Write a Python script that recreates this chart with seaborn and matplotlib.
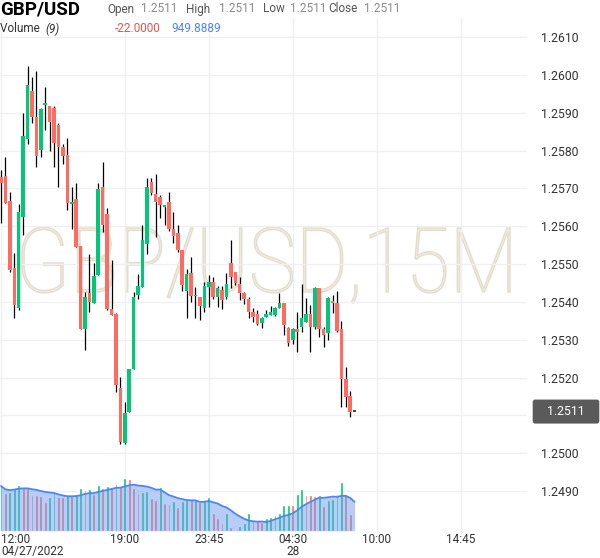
import matplotlib
matplotlib.use("Agg")
import matplotlib.pyplot as plt
import matplotlib.transforms as mtransforms
from matplotlib.textpath import TextPath
from matplotlib.patches import PathPatch
from matplotlib.font_manager import FontProperties
import seaborn as sns
import pandas as pd
import numpy as np

# GBP/USD 15 minute candles, 04/27/2022 12:00 onwards
opens = [1.25730, 1.25733, 1.25667, 1.25489, 1.25384, 1.25624, 1.25830, 1.25957, 1.25889, 1.25801,
         1.25921, 1.25918, 1.25912, 1.25867, 1.25809, 1.25788, 1.25659, 1.25672, 1.25548, 1.25328,
         1.25423, 1.25397, 1.25471, 1.25704, 1.25632, 1.25381, 1.25368, 1.25172, 1.25027, 1.25109,
         1.25223, 1.25418, 1.25439, 1.25553, 1.25717, 1.25685, 1.25677, 1.25651, 1.25664, 1.25593,
         1.25582, 1.25537, 1.25429, 1.25476, 1.25415, 1.25413, 1.25384, 1.25439, 1.25452, 1.25413,
         1.25431, 1.25413, 1.25503, 1.25479, 1.25447, 1.25423, 1.25408, 1.25373, 1.25368, 1.25344,
         1.25360, 1.25365, 1.25365, 1.25384, 1.25397, 1.25331, 1.25299, 1.25328, 1.25334, 1.25347,
         1.25368, 1.25334, 1.25437, 1.25328, 1.25318, 1.25402, 1.25397, 1.25328, 1.25196, 1.25151,
         1.25110]
highs = [1.25748, 1.25783, 1.25690, 1.25529, 1.25659, 1.25899, 1.26023, 1.25994, 1.26010, 1.25912,
         1.25968, 1.25918, 1.25918, 1.25873, 1.25817, 1.25833, 1.25704, 1.25714, 1.25548, 1.25426,
         1.25527, 1.25503, 1.25714, 1.25770, 1.25648, 1.25511, 1.25371, 1.25201, 1.25135, 1.25223,
         1.25426, 1.25474, 1.25603, 1.25727, 1.25727, 1.25738, 1.25682, 1.25653, 1.25690, 1.25638,
         1.25603, 1.25537, 1.25487, 1.25519, 1.25439, 1.25413, 1.25452, 1.25471, 1.25466, 1.25442,
         1.25442, 1.25476, 1.25564, 1.25479, 1.25466, 1.25426, 1.25413, 1.25384, 1.25378, 1.25360,
         1.25378, 1.25389, 1.25386, 1.25423, 1.25397, 1.25334, 1.25331, 1.25373, 1.25447, 1.25410,
         1.25392, 1.25439, 1.25437, 1.25334, 1.25413, 1.25418, 1.25429, 1.25349, 1.25228, 1.25164,
         1.25110]
lows = [1.25608, 1.25661, 1.25479, 1.25357, 1.25378, 1.25577, 1.25817, 1.25873, 1.25756, 1.25783,
        1.25854, 1.25799, 1.25756, 1.25704, 1.25764, 1.25643, 1.25593, 1.25545, 1.25328, 1.25273,
        1.25373, 1.25397, 1.25471, 1.25585, 1.25378, 1.25365, 1.25162, 1.25024, 1.25024, 1.25109,
        1.25223, 1.25408, 1.25439, 1.25527, 1.25682, 1.25571, 1.25622, 1.25603, 1.25587, 1.25556,
        1.25532, 1.25429, 1.25357, 1.25400, 1.25357, 1.25352, 1.25373, 1.25386, 1.25408, 1.25386,
        1.25381, 1.25408, 1.25437, 1.25445, 1.25405, 1.25394, 1.25357, 1.25347, 1.25339, 1.25331,
        1.25360, 1.25365, 1.25362, 1.25384, 1.25312, 1.25283, 1.25289, 1.25267, 1.25320, 1.25347,
        1.25267, 1.25328, 1.25307, 1.25281, 1.25299, 1.25371, 1.25320, 1.25122, 1.25122, 1.25096,
        1.25110]
closes = [1.25714, 1.25661, 1.25484, 1.25392, 1.25638, 1.25838, 1.25973, 1.25889, 1.25785, 1.25910,
          1.25923, 1.25875, 1.25820, 1.25809, 1.25785, 1.25661, 1.25664, 1.25545, 1.25328, 1.25413,
          1.25400, 1.25468, 1.25698, 1.25603, 1.25381, 1.25365, 1.25180, 1.25030, 1.25106, 1.25223,
          1.25413, 1.25442, 1.25564, 1.25704, 1.25688, 1.25664, 1.25656, 1.25653, 1.25593, 1.25574,
          1.25537, 1.25445, 1.25474, 1.25415, 1.25418, 1.25389, 1.25442, 1.25452, 1.25413, 1.25437,
          1.25405, 1.25447, 1.25466, 1.25450, 1.25423, 1.25408, 1.25373, 1.25360, 1.25341, 1.25357,
          1.25368, 1.25373, 1.25384, 1.25397, 1.25339, 1.25291, 1.25328, 1.25320, 1.25357, 1.25368,
          1.25334, 1.25437, 1.25328, 1.25312, 1.25410, 1.25397, 1.25323, 1.25196, 1.25149, 1.25110,
          1.25110]
volumes = [1475, 1254, 1287, 1409, 1508, 1442, 1409, 1178, 1165, 1155,
           957, 1122, 1244, 1122, 1115, 1178, 1171, 1211, 1409, 1343,
           1376, 1211, 1508, 1409, 1475, 1452, 1541, 1442, 1739, 1706,
           1409, 1244, 1287, 1294, 1079, 1013, 1442, 924, 881, 980,
           782, 980, 1013, 1006, 1013, 957, 980, 1112, 594, 419,
           264, 584, 132, 23, 155, 264, 594, 353, 330, 297,
           419, 462, 518, 584, 848, 855, 845, 1211, 1376, 1178,
           1162, 1148, 1172, 815, 1013, 1046, 1178, 1607, 1211, 551,
           -22]

tick_pos = [0, 28, 47, 66, 85, 104]
tick_labels = ["12:00\n04/27/2022", "19:00", "23:45", "04:30\n28", "10:00", "14:45"]
price_ticks = [1.2490, 1.2500, 1.2510, 1.2520, 1.2530, 1.2540, 1.2550, 1.2560,
               1.2570, 1.2580, 1.2590, 1.2600, 1.2610]
last_price = 1.2511
ma_len = 9

GREEN = "#00c878"
RED = "#ff6b60"

sns.set_theme(style="white")
plt.rcParams["font.family"] = ["Roboto", "DejaVu Sans"]

W, H = 600, 558
fig = plt.figure(figsize=(W / 100, H / 100), dpi=100)
fig.patch.set_facecolor("white")

# main price panel
ax = fig.add_axes([0, (H - 532) / H, 527 / W, 514 / H])
ax.set_facecolor("white")
idx = np.arange(len(opens))
o = np.array(opens)
c = np.array(closes)
h = np.array(highs)
l = np.array(lows)

ax.set_xlim(-0.23, 119)
ax.set_ylim(1.247917, 1.261502)

# watermark
fp = FontProperties(family="Roboto", weight="light")
wm = TextPath((0, 0), "GBP/USD,15M", size=1, prop=fp)
ext = wm.get_extents()
cap = TextPath((0, 0), "M", size=1, prop=fp).get_extents().height
sx = 488 / ext.width
sy = 64 / cap
wm_tr = (mtransforms.Affine2D().translate(-ext.x0, 0).scale(sx, sy).translate(22, H - 292)
         + mtransforms.Affine2D().scale(1 / W, 1 / H) + fig.transFigure)
ax.add_patch(PathPatch(wm, transform=wm_tr, fc="#f3f0e8", ec="#e4dece", lw=1.1, zorder=0.5))

# candles
body_col = np.where(c > o, GREEN, np.where(c < o, RED, "#444444"))
ax.vlines(idx, l, h, color="black", lw=0.9, zorder=2)
bottoms = np.minimum(o, c)
heights = np.maximum(np.abs(c - o), 0.00004)
ax.bar(idx, heights, bottom=bottoms, width=0.8, color=body_col, lw=0, zorder=3)

ax.set_yticks(price_ticks)
# the 1.2510 label sits under the last-price tag
ax.set_yticklabels(["" if abs(p - last_price) < 0.00015 else f"{p:.4f}" for p in price_ticks])
ax.yaxis.tick_right()
ax.tick_params(axis="y", length=0, pad=10, labelsize=8.8, labelcolor="#333333")
ax.set_xticks(tick_pos)
ax.tick_params(axis="x", length=0, labelbottom=False)
ax.grid(True, color="#f0f0f0", lw=1)
ax.set_axisbelow(True)
sns.despine(ax=ax, left=True, bottom=True, right=True, top=True)

# current price tag
tag_tr = mtransforms.blended_transform_factory(ax.transAxes, ax.transData)
ax.text(1 + 39 / 527, last_price, "   1.2511   ", transform=tag_tr, ha="center", va="center",
        fontsize=8.8, color="white", clip_on=False,
        bbox=dict(boxstyle="round,pad=0.45,rounding_size=0.2", fc="#5a5a5a", ec="none"))

# volume panel
axv = fig.add_axes([0, (H - 530.7) / H, 527 / W, 100 / H])
axv.patch.set_alpha(0)
vol = np.array(volumes)
direction = np.where(np.diff(np.r_[vol[0], vol]) >= 0, "up", "down")
df_vol = pd.DataFrame({"idx": idx, "vol": vol, "dir": direction})
sns.barplot(data=df_vol, x="idx", y="vol", hue="dir", palette={"up": GREEN, "down": RED},
            native_scale=True, dodge=False, width=0.65, legend=False, errorbar=None,
            saturation=1, ax=axv)
ma = pd.Series(vol).rolling(ma_len, min_periods=1).mean()
axv.fill_between(idx, ma, color="#6f9cf0", alpha=0.5, lw=0, zorder=4)
sns.lineplot(x=idx, y=ma.values, color="#4f86ea", lw=1.3, ax=axv, zorder=5)
axv.set_xlim(-0.23, 119)
axv.set_ylim(0, 3300)
axv.set_yticks([])
axv.set_ylabel("")
axv.set_xlabel("")
axv.set_xticks(tick_pos)
axv.set_xticklabels(tick_labels, fontsize=8.5, color="#333333", linespacing=0.95)
axv.tick_params(axis="x", length=0, pad=1.5)
lab0 = axv.get_xticklabels()[0]
lab0.set_ha("left")
lab0.set_multialignment("left")
axv.grid(False)
sns.despine(ax=axv, left=True, bottom=True)

# header
def px(x, y):
    return x / W, 1 - y / H

fig.text(*px(0, 9), "GBP/USD", fontsize=13.5, fontweight="bold", color="black", va="center")
hdr = [("Open", 107, 141), ("High", 186, 219), ("Low", 263, 290), ("Close", 328, 364)]
for name, x_name, x_val in hdr:
    fig.text(*px(x_name, 9), name, fontsize=8.5, color="#555555", va="center")
    fig.text(*px(x_val, 8), "1.2511", fontsize=8.5, color="#8a8a8a", va="center")
fig.text(*px(0, 29), "Volume ", fontsize=8.5, color="#333333", va="center")
fig.text(*px(45, 29), "(9)", fontsize=8.5, color="#333333", va="center", style="italic")
fig.text(*px(115, 29), "-22.0000", fontsize=8.5, color="#e5534b", va="center")
fig.text(*px(171, 29), "949.8889", fontsize=8.5, color="#4e86e6", va="center")

fig.savefig("out.png", dpi=100, facecolor="white")
